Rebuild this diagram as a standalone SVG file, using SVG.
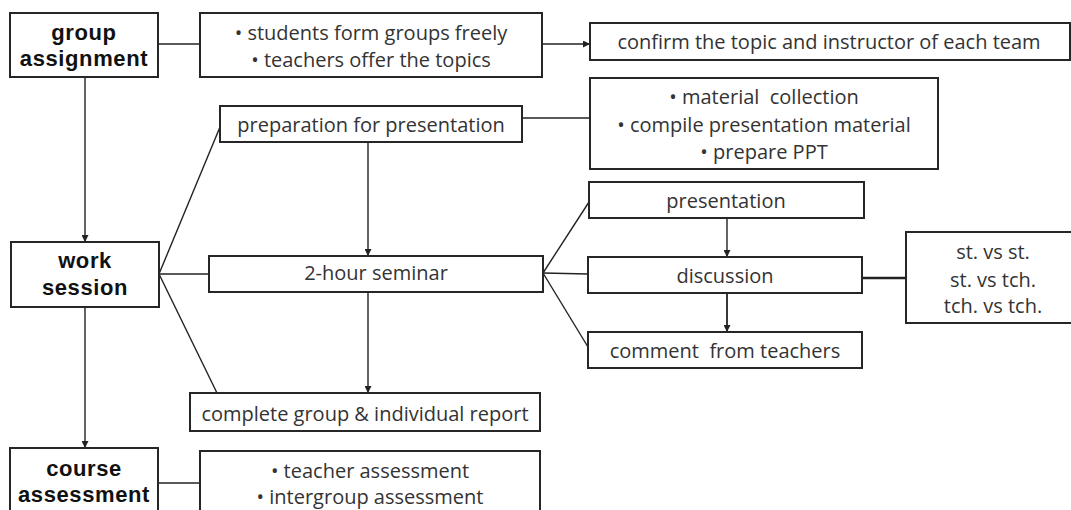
<svg xmlns="http://www.w3.org/2000/svg" width="1071" height="510" viewBox="0 0 1071 510">
<style>
.box{fill:#fff;stroke:#262626;stroke-width:2}
.t{font-family:"Open Sans","Liberation Sans",sans-serif;font-size:20px;fill:#333;text-anchor:middle;white-space:pre}
.b{font-family:"Liberation Sans",Arial,sans-serif;font-size:22px;font-weight:700;fill:#111;text-anchor:middle;letter-spacing:0.6px}
.c{fill:none;stroke:#222;stroke-width:1.4}
.a{marker-end:url(#ah)}
</style>
<defs>
<marker id="ah" viewBox="0 0 10 10" refX="10" refY="5" markerWidth="7" markerHeight="7" markerUnits="userSpaceOnUse" orient="auto">
<path d="M0,0 L10,5 L0,10 z" fill="#222"/>
</marker>
</defs>
<rect width="1071" height="510" fill="#fff"/>
<g id="connectors">
<line class="c" x1="158" y1="44" x2="200" y2="44"/>
<line class="c a" x1="542" y1="44" x2="590" y2="44"/>
<line class="c a" x1="85" y1="77" x2="85" y2="242"/>
<line class="c a" x1="85" y1="307" x2="85" y2="448"/>
<line class="c" x1="159" y1="274" x2="220" y2="127"/>
<line class="c" x1="159" y1="274" x2="209" y2="274"/>
<line class="c" x1="159" y1="274" x2="217" y2="393"/>
<line class="c" x1="522" y1="118" x2="590" y2="118"/>
<line class="c a" x1="368" y1="142" x2="368" y2="256"/>
<line class="c a" x1="368" y1="292" x2="368" y2="393"/>
<line class="c" x1="543" y1="273" x2="589" y2="202"/>
<line class="c" x1="543" y1="273" x2="588" y2="274"/>
<line class="c" x1="543" y1="273" x2="588" y2="347"/>
<line class="c a" x1="727" y1="218" x2="727" y2="257"/>
<line class="c a" x1="727" y1="293" x2="727" y2="332" style="stroke-width:1.8"/>
<line class="c" x1="862" y1="278" x2="906" y2="278" style="stroke-width:2.6"/>
<line class="c" x1="158" y1="483" x2="200" y2="483"/>
</g>
<g id="group-assignment">
<rect class="box" x="10" y="13" width="148" height="64"/>
<text class="b" x="84" y="40">group</text>
<text class="b" x="84" y="66">assignment</text>
</g>
<g id="group-options">
<rect class="box" x="200" y="13" width="342" height="64"/>
<text class="t" x="371" y="40">• students form groups freely</text>
<text class="t" x="371" y="67">• teachers offer the topics</text>
</g>
<g id="confirm">
<rect class="box" x="590" y="23" width="480" height="37"/>
<text class="t" x="829" y="49">confirm the topic and instructor of each team</text>
</g>
<g id="preparation">
<rect class="box" x="220" y="106" width="302" height="36"/>
<text class="t" x="371" y="132">preparation for presentation</text>
</g>
<g id="prep-tasks">
<rect class="box" x="590" y="78" width="348" height="91"/>
<text class="t" x="764" y="104">• material  collection</text>
<text class="t" x="764" y="132">• compile presentation material</text>
<text class="t" x="764" y="159">• prepare PPT</text>
</g>
<g id="work-session">
<rect class="box" x="11" y="242" width="148" height="65"/>
<text class="b" x="85" y="268">work</text>
<text class="b" x="85" y="295">session</text>
</g>
<g id="seminar">
<rect class="box" x="209" y="256" width="334" height="36"/>
<text class="t" x="376" y="280">2-hour seminar</text>
</g>
<g id="presentation">
<rect class="box" x="589" y="182" width="275" height="36"/>
<text class="t" x="726" y="208">presentation</text>
</g>
<g id="discussion">
<rect class="box" x="588" y="257" width="274" height="36"/>
<text class="t" x="725" y="283">discussion</text>
</g>
<g id="comment">
<rect class="box" x="588" y="332" width="274" height="36"/>
<text class="t" x="725" y="358">comment  from teachers</text>
</g>
<g id="discussion-types">
<rect class="box" x="906" y="232" width="170" height="91"/>
<text class="t" x="993" y="259">st. vs st.</text>
<text class="t" x="993" y="287">st. vs tch.</text>
<text class="t" x="993" y="313">tch. vs tch.</text>
</g>
<g id="report">
<rect class="box" x="190" y="393" width="350" height="38"/>
<text class="t" x="365" y="421">complete group &amp; individual report</text>
</g>
<g id="course-assessment">
<rect class="box" x="10" y="448" width="148" height="70"/>
<text class="b" x="84" y="476">course</text>
<text class="b" x="84" y="502">assessment</text>
</g>
<g id="assessment-types">
<rect class="box" x="200" y="451" width="340" height="67"/>
<text class="t" x="370" y="478">• teacher assessment</text>
<text class="t" x="370" y="504">• intergroup assessment</text>
</g>
</svg>
